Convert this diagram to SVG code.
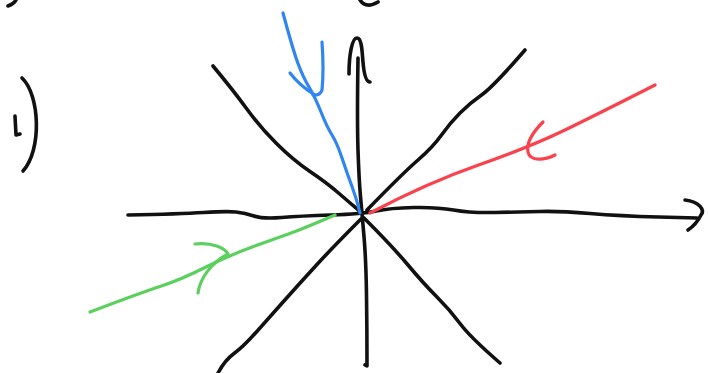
<svg xmlns="http://www.w3.org/2000/svg" width="708" height="373" viewBox="0 0 708 373">
<style>
.s{fill:none;stroke-linecap:round;stroke-linejoin:round;stroke-width:3.6}
.k{stroke:#111}
.b{stroke:#2f86f0;stroke-width:3.2}
.r{stroke:#f8434f;stroke-width:3.2}
.g{stroke:#5bd05e;stroke-width:3.2}
</style>
<rect width="708" height="373" fill="#fff"/>
<g id="label">
<path class="s k" d="M8,6 Q14,4 16,0"/>
<path class="s k" d="M360,0 Q366,9 378,2"/>
<path class="s k" d="M15,116 L16,135 L20,134"/>
<path class="s k" d="M22,78 C40,95 42,150 23,171"/>
</g>
<g id="connectors">
<path id="x-axis" class="s k" d="M128,215 Q180,214 203.5,212.5 Q227,211 236,212 Q245,213 254,216 Q263,219 281.5,217.5 Q300,216 331,215 Q362,214 376,211 Q390,208 413.5,207.5 Q437,207 453.5,210 Q470,213 495,212.5 Q520,212 540,211.5 Q560,211 590,213.5 Q620,216 658.5,217 L697,218"/>
<path class="s k" d="M685,200 C700,202 705,210 701,215 C698,221 694,226 688,230"/>
<path id="y-axis" class="s k" d="M358,58 Q357,120 358,150 Q359,180 360.5,196.5 Q362,213 364,236.5 Q366,260 366.5,295 Q367,330 367,366 L365,365"/>
<path class="s k" d="M349,74 C349,55 352,38 357,38 C362,38 362,52 363,62 C364,74 366,82 370,82"/>
<path id="diag-tl" class="s k" d="M213,66 Q233,90 246.5,108.5 Q260,127 276.5,143.5 Q293,160 310,171.5 Q327,183 338.5,193 Q350,203 362,213"/>
<path id="diag-tr" class="s k" d="M367,210 Q403,173 418,160 Q433,147 441.5,135 Q450,123 460,113 Q470,103 481.5,95 Q493,87 525,50"/>
<path id="diag-bl" class="s k" d="M361,219 Q333,247 316.5,265 Q300,283 283.5,301.5 Q267,320 255,333.5 Q243,347 234,353.5 Q225,360 218,373"/>
<path id="diag-br" class="s k" d="M364,218 Q393,247 408,265 Q423,283 436.5,296.5 Q450,310 460,323.5 Q470,337 500,363"/>
<path id="blue" class="s b" d="M283,13 Q293,50 298,63.5 Q303,77 309,87 Q315,97 321,112 Q327,127 332,135 Q337,143 342,158 Q347,173 352,186.5 Q357,200 360,213"/>
<path class="s b" d="M290,73 Q300,86 315,95 M322,42 Q324,70 322,90 Q320,96 313,95"/>
<path id="red" class="s r" d="M370,213 Q427,183 478.5,165 Q530,147 565,130 Q600,113 655,85"/>
<path class="s r" d="M543,122 C533,132 526,142 528,152 C530,162 545,160 555,155"/>
<path id="green" class="s g" d="M335,215 Q300,230 288.5,234 Q277,238 253.5,246.5 Q230,255 205,267.5 Q180,280 160,286.5 Q140,293 90,312"/>
<path class="s g" d="M195,244 C212,242 225,248 228,254 C212,262 200,278 198,293"/>
</g>
</svg>
